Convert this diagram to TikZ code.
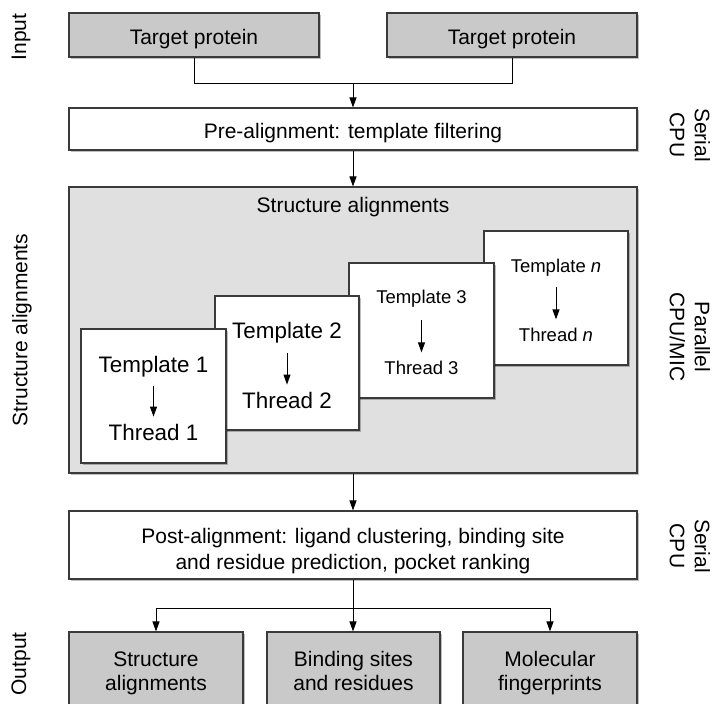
\documentclass[tikz,border=0pt]{standalone}
\usepackage{fontspec}
\setmainfont{Liberation Sans}
\usetikzlibrary{arrows.meta,shadows}
\definecolor{edgegray}{HTML}{3A3A3A}
\definecolor{boxgray}{HTML}{C9C9C9}
\definecolor{panelgray}{HTML}{E0E0E0}
\begin{document}
\begin{tikzpicture}[x=1pt,y=-1pt,
  base/.style={draw=edgegray, line width=1.1pt, inner sep=0pt,
    drop shadow={shadow xshift=1.5pt, shadow yshift=-1.5pt, opacity=0.25, fill=black}},
  graybox/.style={base, fill=boxgray},
  whitebox/.style={base, fill=white},
  panel/.style={base, fill=panelgray},
  tmpl/.style={base, fill=white},
  tx/.style={inner sep=0pt, anchor=base, font=\fontsize{21}{25}\selectfont},
  side/.style={inner sep=0pt, align=center, font=\fontsize{21}{25}\selectfont},
  arr/.style={draw=black, line width=1pt, -{Triangle[length=10pt,width=7pt]}},
  ln/.style={draw=black, line width=1pt},
]
\useasboundingbox (0,0) rectangle (716,704);
\clip (0,0) rectangle (716,704);

% input
\node[graybox, minimum width=250pt, minimum height=44pt] (in1) at (194,35) {};
\node[graybox, minimum width=250pt, minimum height=44pt] (in2) at (512,35) {};
\node[tx] (in1t) at (194,44) {Target protein};
\node[tx] (in2t) at (512,44) {Target protein};
\coordinate (j1) at (353,83);
\draw[ln] (in1.south) |- (j1);
\draw[ln] (in2.south) |- (j1);

% pre-alignment
\node[whitebox, minimum width=568pt, minimum height=42pt] (pre) at (353,129) {};
\node[tx] (pret) at (353,138) {Pre-alignment: template filtering};
\draw[arr] (j1) -- (pre.north);

% structure panel
\node[panel, minimum width=568pt, minimum height=286pt] (panel) at (353,330) {};
\draw[arr] (pre.south) -- (panel.north);
\node[tx] (ptitle) at (353,212) {Structure alignments};

% template boxes
\node[tmpl, minimum width=144pt, minimum height=134pt] (tn) at (556,298) {};
\node[tmpl, minimum width=145pt, minimum height=135pt] (tb3) at (421.5,330.5) {};
\node[tmpl, minimum width=144pt, minimum height=134pt] (tb2) at (287,363) {};
\node[tmpl, minimum width=145pt, minimum height=134pt] (tb1) at (153.5,396) {};

\node[tx, font=\fontsize{22.4}{26}\selectfont] (t1a) at (153.5,372) {Template 1};
\node[tx, font=\fontsize{22.4}{26}\selectfont] (t1b) at (153.5,440) {Thread 1};
\draw[arr, shorten <=9pt, shorten >=7pt] (t1a.south) -- (t1b.north);

\node[tx, font=\fontsize{22.4}{26}\selectfont] (t2a) at (287,338) {Template 2};
\node[tx, font=\fontsize{22.4}{26}\selectfont] (t2b) at (287,408) {Thread 2};
\draw[arr, shorten <=10pt, shorten >=7pt] (t2a.south) -- (t2b.north);

\node[tx, font=\fontsize{18.5}{22}\selectfont] (t3a) at (421.5,303) {Template 3};
\node[tx, font=\fontsize{18.5}{22}\selectfont] (t3b) at (421.5,374) {Thread 3};
\draw[arr, shorten <=13pt, shorten >=8pt] (t3a.south) -- (t3b.north);

\node[tx, font=\fontsize{18.5}{22}\selectfont] (tna) at (556,272) {Template \textit{n}};
\node[tx, font=\fontsize{18.5}{22}\selectfont] (tnb) at (556,341) {Thread \textit{n}};
\draw[arr, shorten <=11pt, shorten >=8pt] (tna.south) -- (tnb.north);

% post-alignment
\node[whitebox, minimum width=568pt, minimum height=68pt] (post) at (353,545) {};
\node[tx] (post1) at (353,543) {Post-alignment: ligand clustering, binding site};
\node[tx] (post2) at (353,569) {and residue prediction, pocket ranking};
\draw[arr] (panel.south) -- (post.north);

% outputs
\node[graybox, minimum width=174pt, minimum height=83pt] (out1) at (156,673.5) {};
\node[graybox, minimum width=173pt, minimum height=83pt] (out2) at (353.5,673.5) {};
\node[graybox, minimum width=174pt, minimum height=83pt] (out3) at (550,673.5) {};
\node[tx] (out1a) at (156,666) {Structure};
\node[tx] (out1b) at (156,690) {alignments};
\node[tx] (out2a) at (353.5,666) {Binding sites};
\node[tx] (out2b) at (353.5,690) {and residues};
\node[tx] (out3a) at (550,666) {Molecular};
\node[tx] (out3b) at (550,690) {fingerprints};
\coordinate (j2) at (353,608);
\draw[ln] (post.south) -- (j2);
\draw[arr] (j2) -- (j2 |- out2.north);
\draw[arr] (j2) -| (out1.north);
\draw[arr] (j2) -| (out3.north);

% side labels
\node[side, rotate=90] (linput) at (21,37) {Input};
\node[side, rotate=90] (lstruct) at (22,330) {Structure alignments};
\node[side, rotate=90] (loutput) at (21,664) {Output};
\node[side, rotate=-90] (rser1) at (690,135) {Serial\\CPU};
\node[side, rotate=-90] (rpar) at (690,337) {Parallel\\CPU/MIC};
\node[side, rotate=-90] (rser2) at (690,546) {Serial\\CPU};
\end{tikzpicture}
\end{document}
